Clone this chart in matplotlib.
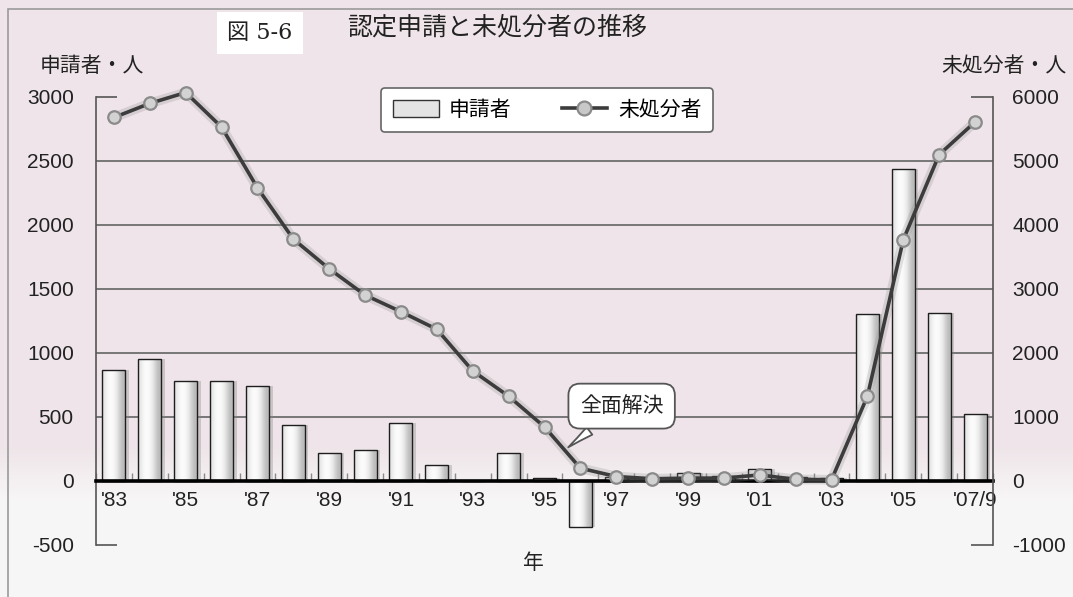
import numpy as np
import matplotlib
matplotlib.use('Agg')
import matplotlib.pyplot as plt
from matplotlib.patches import Rectangle
from matplotlib.lines import Line2D
from matplotlib.ticker import FixedLocator

plt.rcParams['font.family'] = ['Noto Sans CJK JP', 'DejaVu Sans']
plt.rcParams['axes.unicode_minus'] = False

# --- データ ---
years = ["'83", "'84", "'85", "'86", "'87", "'88", "'89", "'90", "'91", "'92",
         "'93", "'94", "'95", "'96", "'97", "'98", "'99", "'00", "'01", "'02",
         "'03", "'04", "'05", "'06", "'07/9"]
# 申請者 (人)
applicants = [870, 955, 780, 780, 740, 435, 220, 245, 450, 125,
              0, 220, 20, -360, 30, 20, 60, 40, 90, 30,
              20, 1305, 2440, 1310, 520]
# 未処分者 (人)
pending = [5680, 5900, 6070, 5530, 4580, 3780, 3315, 2905, 2645, 2370,
           1720, 1325, 845, 200, 70, 35, 45, 45, 95, 25,
           20, 1325, 3770, 5100, 5610]
# 目盛りを付ける年
labeled_years = ["'83", "'85", "'87", "'89", "'91", "'93", "'95", "'97", "'99",
                 "'01", "'03", "'05", "'07/9"]
left_ticks = [-500, 0, 500, 1000, 1500, 2000, 2500, 3000]
right_ticks = [-1000, 0, 1000, 2000, 3000, 4000, 5000, 6000]
grid_levels = [500, 1000, 1500, 2000, 2500]

num_font = ['Liberation Sans', 'DejaVu Sans']
W, H = 1073, 597

fig = plt.figure(figsize=(W / 100, H / 100), dpi=100)

# 背景（上はうす桃色、下は白っぽく）
bg = fig.add_axes([0, 0, 1, 1], zorder=-10)
bg.axis('off')
rows = np.linspace(0, 1, 300)
top_c = np.array([0.935, 0.898, 0.915])
bot_c = np.array([0.972, 0.965, 0.968])
t = np.clip((rows - 0.75) / 0.09, 0, 1)[:, None]
grad_bg = top_c * (1 - t) + bot_c * t
bg.imshow(grad_bg[:, None, :], aspect='auto', extent=(0, 1, 1, 0),
          interpolation='bilinear')
bg.set_xlim(0, 1)
bg.set_ylim(1, 0)

# 外枠
fig.patches.append(Rectangle((8 / W, -0.1), 1.2, 1.1 - 9 / H, transform=fig.transFigure,
                             fill=False, edgecolor='#9a9a9a', linewidth=1.2))

ax = fig.add_axes([96 / W, 1 - 545 / H, (993 - 96) / W, (545 - 97) / H])
ax.set_facecolor('none')
x = np.arange(len(years))

# 横の目盛線
for lv in grid_levels:
    ax.axhline(lv, color='#6e6e6e', linewidth=1.3, zorder=1)

# 申請者の棒（影 + グラデーション）
ax.bar(x + 0.10, applicants, width=0.64, color='#8a8a8a', alpha=0.35,
       linewidth=0, zorder=2)
bars = ax.bar(x, applicants, width=0.64, facecolor='none', edgecolor='#1e1e1e',
              linewidth=1.0, zorder=4)
grad = np.array([[0.88, 0.96, 0.99, 0.97, 0.92, 0.80, 0.72]])
for b in bars:
    if b.get_height() == 0:
        continue
    x0, y0 = b.get_x(), b.get_y()
    im = ax.imshow(grad, cmap='gray', vmin=0, vmax=1, aspect='auto',
                   interpolation='bicubic', zorder=3,
                   extent=(x0, x0 + b.get_width(), y0, y0 + b.get_height()))
    im.set_clip_path(b)

ax.set_xlim(-0.5, len(years) - 0.5)
ax.set_ylim(-500, 3000)

ax.spines['top'].set_visible(False)
ax.spines['right'].set_visible(False)
ax.spines['left'].set_color('#555555')
ax.spines['left'].set_linewidth(1.2)
ax.spines['bottom'].set_position(('data', 0))
ax.spines['bottom'].set_color('black')
ax.spines['bottom'].set_linewidth(2.6)
ax.spines['bottom'].set_zorder(5)

ax.set_xticks([years.index(y) for y in labeled_years])
ax.set_xticklabels(labeled_years, family=num_font, fontsize=15)
ax.xaxis.set_minor_locator(FixedLocator(np.arange(len(years) + 1) - 0.5))
ax.tick_params(axis='x', which='major', length=0, pad=7, colors='#222222')
ax.tick_params(axis='x', which='minor', direction='in', length=6,
               color='#8a8a8a', width=1.0)

ax.set_yticks(left_ticks)
ax.set_yticklabels([str(v) for v in left_ticks], family=num_font, fontsize=15)
ax.yaxis.remove_overlapping_locs = False
ax.yaxis.set_minor_locator(FixedLocator([-500, 3000]))
ax.tick_params(axis='y', which='major', length=0, pad=16, colors='#222222')
ax.tick_params(axis='y', which='minor', direction='in', length=15,
               color='#555555', width=1.2)

# 未処分者の折れ線（右軸）
ax2 = ax.twinx()
ax2.set_ylim(-1000, 6000)
ax2.plot(x, pending, color='#8c8c8c', linewidth=7, alpha=0.25,
         solid_capstyle='round', zorder=2, clip_on=False)
ax2.plot(x, pending, color='#3c3c3c', linewidth=2.6, marker='o',
         markersize=9, markerfacecolor='#d2d2d2', markeredgecolor='#8a8a8a',
         markeredgewidth=1.6, zorder=3, clip_on=False)
for side in ['top', 'left', 'bottom']:
    ax2.spines[side].set_visible(False)
ax2.spines['right'].set_color('#555555')
ax2.spines['right'].set_linewidth(1.2)
ax2.set_yticks(right_ticks)
ax2.set_yticklabels([str(v) for v in right_ticks], family=num_font, fontsize=15)
ax2.yaxis.remove_overlapping_locs = False
ax2.yaxis.set_minor_locator(FixedLocator([-1000, 6000]))
ax2.tick_params(axis='y', which='major', length=0, pad=14, colors='#222222')
ax2.tick_params(axis='y', which='minor', direction='in', length=16,
                color='#555555', width=1.2)

# 吹き出し
ax2.annotate('全面解決', xy=(12.6, 500), xytext=(14.15, 1170),
             ha='center', va='center', fontsize=15, color='#222222', zorder=10,
             bbox=dict(boxstyle='round,pad=0.55,rounding_size=0.55',
                       fc='white', ec='#555555', lw=1.3),
             arrowprops=dict(arrowstyle='wedge,tail_width=0.45,shrink_factor=0.45',
                             fc='white', ec='#555555', lw=1.3,
                             connectionstyle='arc3'))

# 凡例
handles = [Rectangle((0, 0), 1, 1, facecolor='#e4e4e4', edgecolor='#333333', linewidth=1.0),
           Line2D([], [], color='#3c3c3c', linewidth=2.6, marker='o', markersize=10,
                  markerfacecolor='#c8c8c8', markeredgecolor='#8a8a8a',
                  markeredgewidth=1.6)]
leg = fig.legend(handles, ['申請者', '未処分者'], loc='center',
                 bbox_to_anchor=(547 / W, 1 - 110 / H), ncol=2, fontsize=15,
                 frameon=True, fancybox=True, handlelength=2.2, handleheight=0.9,
                 columnspacing=2.4, handletextpad=0.5, borderpad=0.55)
leg.get_frame().set_edgecolor('#666666')
leg.get_frame().set_linewidth(1.2)
leg.get_frame().set_facecolor('white')
leg.get_frame().set_alpha(1.0)

# タイトル・軸ラベル
fig.text(497 / W, 1 - 27 / H, '認定申請と未処分者の推移', ha='center', va='center',
         fontsize=18, color='#222222')
fig.text(260 / W, 1 - 33 / H, '図 5-6', ha='center', va='center', fontsize=16,
         family=['DejaVu Serif', 'Noto Sans CJK JP'], color='#222222',
         bbox=dict(boxstyle='square,pad=0.45', fc='white', ec='none'))
fig.text(40 / W, 1 - 66 / H, '申請者・人', ha='left', va='center', fontsize=15,
         color='#222222')
fig.text(1067 / W, 1 - 66 / H, '未処分者・人', ha='right', va='center', fontsize=15,
         color='#222222')
fig.text(533 / W, 1 - 563 / H, '年', ha='center', va='center', fontsize=15,
         color='#222222')

fig.savefig('out.png', dpi=100)
